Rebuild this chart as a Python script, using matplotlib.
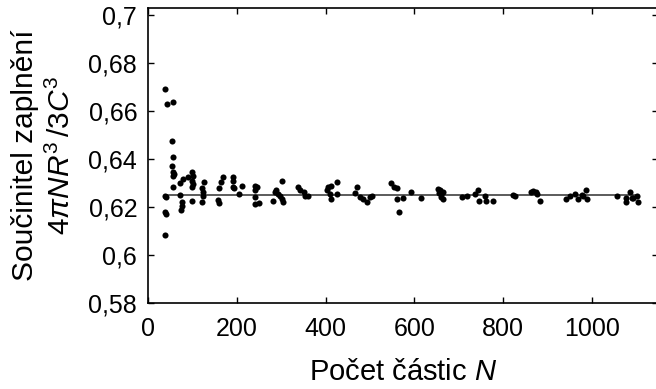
import numpy as np
import matplotlib
matplotlib.use('Agg')
import matplotlib.pyplot as plt

# number of particles N
n_particles = [38, 43, 55, 54, 55, 53, 56, 55, 57, 56, 37, 39, 37, 39, 38,
               71, 71, 75, 75, 74, 79, 90, 98, 100, 99, 99, 100, 98,
               120, 122, 124, 124, 125, 158, 160, 159, 165, 169,
               192, 192, 192, 193, 205, 211, 240, 240, 240, 240, 244, 250,
               282, 286, 289, 293, 297, 301, 304, 302,
               338, 342, 350, 353, 361,
               402, 406, 413, 425, 410, 413, 425,
               470, 466, 477, 485, 492, 500, 504,
               547, 553, 560, 561, 574, 565, 592, 616,
               654, 658, 656, 661, 665, 661, 664,
               707, 718, 737, 744, 746, 759, 761, 778,
               822, 826, 864, 868, 874, 877, 883,
               942, 951, 962, 970, 977, 981, 988, 990,
               1058, 1077, 1077, 1086, 1090, 1094, 1101, 1105]

# packing fraction 4 pi N R^3 / 3 C^3
packing = [0.6693, 0.6631, 0.6640, 0.6477, 0.6408, 0.6371, 0.6345, 0.6330, 0.6338, 0.6283,
           0.6247, 0.6243, 0.6180, 0.6172, 0.6086,
           0.6302, 0.6253, 0.6221, 0.6207, 0.6190, 0.6318, 0.6325, 0.6346, 0.6332, 0.6311,
           0.6283, 0.6297, 0.6228,
           0.6221, 0.6281, 0.6263, 0.6249, 0.6304, 0.6231, 0.6217, 0.6281, 0.6307, 0.6325,
           0.6328, 0.6308, 0.6286, 0.6281, 0.6256, 0.6290, 0.6290, 0.6270, 0.6242, 0.6214,
           0.6283, 0.6217,
           0.6228, 0.6263, 0.6270, 0.6256, 0.6249, 0.6235, 0.6221, 0.6311,
           0.6283, 0.6270, 0.6263, 0.6249, 0.6249,
           0.6270, 0.6283, 0.6290, 0.6304, 0.6256, 0.6235, 0.6256,
           0.6283, 0.6258, 0.6242, 0.6235, 0.6221, 0.6242, 0.6249,
           0.6300, 0.6286, 0.6281, 0.6235, 0.6239, 0.6179, 0.6263, 0.6239,
           0.6277, 0.6270, 0.6258, 0.6256, 0.6263, 0.6242, 0.6235,
           0.6242, 0.6249, 0.6256, 0.6272, 0.6225, 0.6245, 0.6228, 0.6225,
           0.6253, 0.6246, 0.6263, 0.6267, 0.6263, 0.6256, 0.6228,
           0.6235, 0.6246, 0.6256, 0.6235, 0.6253, 0.6249, 0.6270, 0.6235,
           0.6245, 0.6239, 0.6221, 0.6263, 0.6239, 0.6239, 0.6249, 0.6221]

limit_value = 0.625

x_ticks = [0, 200, 400, 600, 800, 1000]
x_labels = ['0', '200', '400', '600', '800', '1000']
y_ticks = [0.58, 0.60, 0.62, 0.64, 0.66, 0.68, 0.70]
y_labels = ['0,58', '0,6', '0,62', '0,64', '0,66', '0,68', '0,7']

plt.rcParams['font.family'] = ['Liberation Sans', 'DejaVu Sans']
plt.rcParams['mathtext.fontset'] = 'custom'
plt.rcParams['mathtext.rm'] = 'Liberation Sans'
plt.rcParams['mathtext.it'] = 'Liberation Sans:italic'

fig = plt.figure(figsize=(6.56, 3.89), dpi=100)
ax = fig.add_axes([0.2261, 0.2203, 0.7774, 0.7591])

ax.plot([min(n_particles), max(n_particles)], [limit_value, limit_value],
        color='#404040', lw=1.2, zorder=1)
ax.plot(n_particles, packing, 'o', color='black', ms=4.4, mec='none', zorder=2)

ax.set_xlim(0, 1150)
ax.set_ylim(0.58, 0.703)
ax.set_xticks(x_ticks)
ax.set_xticklabels(x_labels)
ax.set_yticks(y_ticks)
ax.set_yticklabels(y_labels)
ax.tick_params(direction='in', length=4, width=1, top=True, right=True,
               labelsize=18, pad=8)
ax.tick_params(axis='x', pad=10)
for s in ax.spines.values():
    s.set_linewidth(1.2)

ax.set_xlabel('Počet částic $N$', fontsize=21, labelpad=12)
ax.set_ylabel('Součinitel zaplnění\n$4\\pi NR^3\\,/3C^3$', fontsize=21.5, labelpad=9,
              linespacing=1.35)

plt.savefig('out.png', dpi=100)
